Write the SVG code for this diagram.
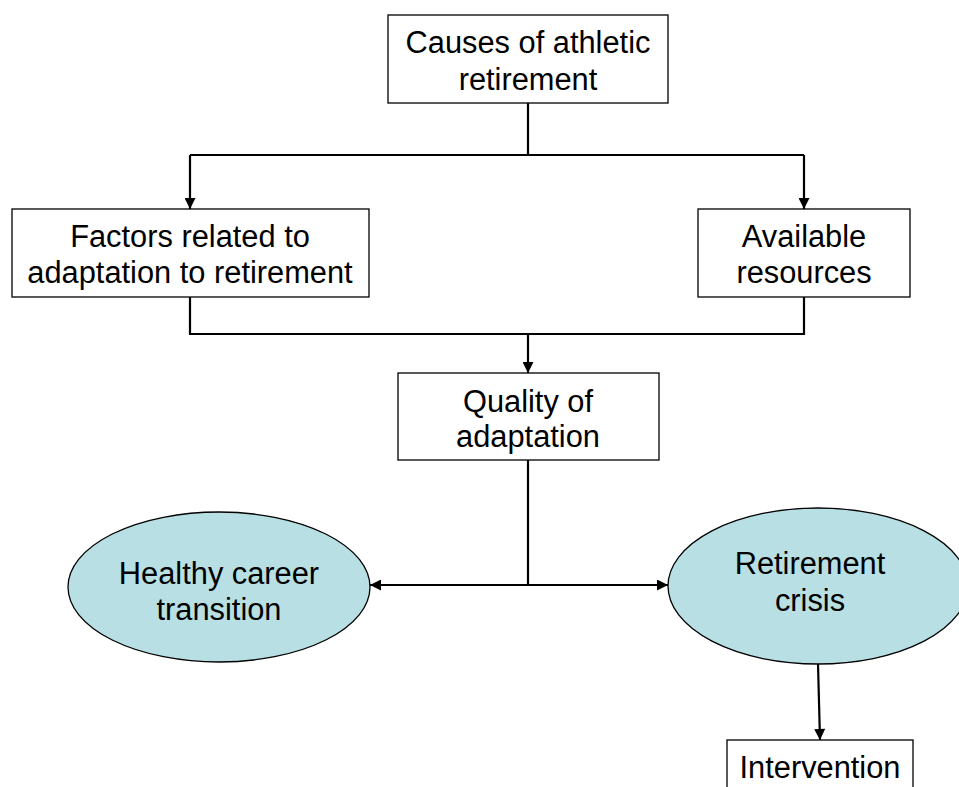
<svg xmlns="http://www.w3.org/2000/svg" width="959" height="787" viewBox="0 0 959 787">
<defs>
<marker id="arr" viewBox="0 0 10 10" refX="10" refY="5" markerWidth="12" markerHeight="11" markerUnits="userSpaceOnUse" orient="auto">
<path d="M0,0 L10,5 L0,10 Z" fill="#000"/>
</marker>
</defs>
<style>
.box{fill:#fff;stroke:#000;stroke-width:1.3}
.ell{fill:#b8dfe3;stroke:#000;stroke-width:1.3}
.t{font-family:"Liberation Sans",Arial,sans-serif;font-size:30.8px;fill:#000;text-anchor:middle}
.c{fill:none;stroke:#000;stroke-width:2.2}
</style>
<rect width="959" height="787" fill="#fff"/>
<g id="connectors">
<path class="c" d="M528,103 V155"/>
<path class="c" d="M190,155 H804"/>
<path class="c" d="M190,155 V209" marker-end="url(#arr)"/>
<path class="c" d="M804,155 V209" marker-end="url(#arr)"/>
<path class="c" d="M190,297 V334 H804 V297"/>
<path class="c" d="M528,334 V373" marker-end="url(#arr)"/>
<path class="c" d="M528,460 V585"/>
<path class="c" d="M528,585 H370" marker-end="url(#arr)"/>
<path class="c" d="M528,585 H668" marker-end="url(#arr)"/>
<path class="c" d="M818,664 L820,740" marker-end="url(#arr)"/>
</g>
<g id="causes">
<rect class="box" x="388" y="15" width="280" height="88"/>
<text class="t" x="528" y="53">Causes of athletic</text>
<text class="t" x="528" y="90">retirement</text>
</g>
<g id="factors">
<rect class="box" x="12" y="209" width="357" height="88"/>
<text class="t" x="190" y="247">Factors related to</text>
<text class="t" x="190" y="283">adaptation to retirement</text>
</g>
<g id="resources">
<rect class="box" x="698" y="209" width="212" height="88"/>
<text class="t" x="804" y="247">Available</text>
<text class="t" x="804" y="283">resources</text>
</g>
<g id="quality">
<rect class="box" x="398" y="373" width="261" height="87"/>
<text class="t" x="528" y="412">Quality of</text>
<text class="t" x="528" y="447">adaptation</text>
</g>
<g id="healthy">
<ellipse class="ell" cx="219" cy="587" rx="151" ry="75"/>
<text class="t" x="219" y="584">Healthy career</text>
<text class="t" x="219" y="620">transition</text>
</g>
<g id="crisis">
<ellipse class="ell" cx="818" cy="586" rx="150" ry="78"/>
<text class="t" x="810" y="574">Retirement</text>
<text class="t" x="810" y="611">crisis</text>
</g>
<g id="intervention">
<rect class="box" x="727" y="740" width="186" height="60"/>
<text class="t" x="820" y="778">Intervention</text>
</g>
</svg>
